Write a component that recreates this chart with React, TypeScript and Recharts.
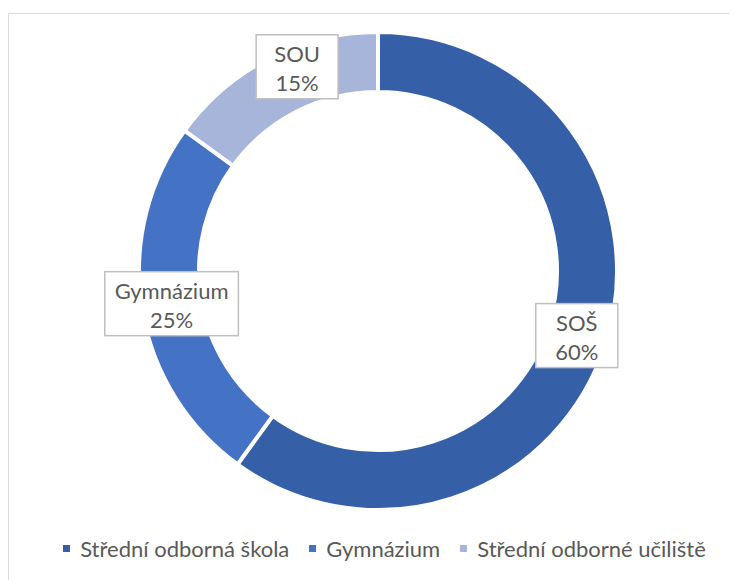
import React from 'react'
import { PieChart, Pie, Cell, Legend } from 'recharts'

const schoolTypes = ['Střední odborná škola', 'Gymnázium', 'Střední odborné učiliště']
const shortNames = ['SOŠ', 'Gymnázium', 'SOU']
const shares = [60, 25, 15]
const colors = ['#3560A8', '#4472C4', '#A8B5DB']

const FONT = 'Lato, "Open Sans", sans-serif'
const TEXT = '#595959'
const RAD = Math.PI / 180

// Excel pushed the small slice's label a bit outward, mimic that
const labelNudge: Record<string, [number, number]> = { SOU: [14, -18] }

const DonutLabel = (props: any) => {
  const { cx, cy, midAngle, innerRadius, outerRadius, payload, percent } = props
  const r = (innerRadius + outerRadius) / 2
  const [dx, dy] = labelNudge[payload.short] || [0, 0]
  const x = cx + r * Math.cos(-midAngle * RAD) + dx
  const y = cy + r * Math.sin(-midAngle * RAD) + dy
  const w = Math.max(82, payload.short.length * 12.4 + 22)
  const h = 64
  return (
    <g>
      <rect x={x - w / 2} y={y - h / 2} width={w} height={h} fill="#fff" stroke="#BFBFBF" strokeWidth={1.5} />
      <text x={x} y={y - 13} textAnchor="middle" dominantBaseline="central" fill={TEXT} fontSize={22} fontFamily={FONT}>
        {payload.short}
      </text>
      <text x={x} y={y + 16} textAnchor="middle" dominantBaseline="central" fill={TEXT} fontSize={22} fontFamily={FONT}>
        {Math.round(percent * 100)}%
      </text>
    </g>
  )
}

const SchoolLegend = () => (
  <div style={{ display: 'flex', justifyContent: 'center', alignItems: 'center', paddingLeft: 22, fontFamily: FONT, fontSize: 22, color: TEXT }}>
    {schoolTypes.map((name, i) => (
      <div key={name} style={{ display: 'flex', alignItems: 'center', marginRight: i < schoolTypes.length - 1 ? 20 : 0 }}>
        <span style={{ width: 7, height: 7, backgroundColor: colors[i], marginRight: 10, display: 'inline-block' }} />
        <span>{name}</span>
      </div>
    ))}
  </div>
)

export default function App() {
  const data = schoolTypes.map((name, i) => ({ name, short: shortNames[i], value: shares[i] }))
  return (
    <div style={{ marginTop: 5, width: 729, height: 566, borderLeft: '1px solid #D9D9D9', borderTop: '1px solid #D9D9D9', background: '#fff' }}>
      <PieChart width={729} height={566}>
        <Pie
          data={data}
          dataKey="value"
          cx={364}
          cy={252}
          innerRadius={179}
          outerRadius={239}
          startAngle={90}
          endAngle={-270}
          stroke="#fff"
          strokeWidth={4}
          label={DonutLabel}
          labelLine={false}
          isAnimationActive={false}
        >
          {data.map((entry, i) => (
            <Cell key={entry.name} fill={colors[i]} />
          ))}
        </Pie>
        <Legend content={<SchoolLegend />} wrapperStyle={{ top: 521, left: 0, width: 729 }} />
      </PieChart>
    </div>
  )
}
